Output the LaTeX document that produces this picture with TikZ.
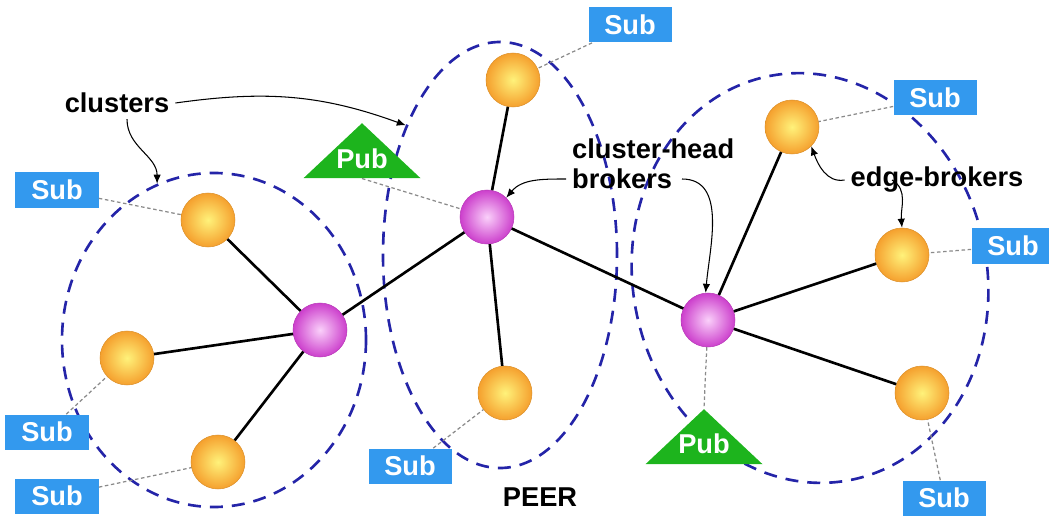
\documentclass[tikz,border=0pt]{standalone}
\usepackage{fontspec}
\setmainfont{Liberation Sans}
\usetikzlibrary{arrows.meta, positioning, shapes.geometric}
\definecolor{subblue}{HTML}{3399EE}
\definecolor{pubgreen}{HTML}{1DB41D}
\definecolor{ringblue}{HTML}{2424A8}
\definecolor{edgein}{HTML}{FFF27A}
\definecolor{edgeout}{HTML}{F5A02E}
\definecolor{headin}{HTML}{FAD0FA}
\definecolor{headout}{HTML}{CC3FCC}
\definecolor{tapgray}{HTML}{8A8A8A}

\begin{document}
\begin{tikzpicture}[x=0.2mm, y=0.2mm,
  every node/.style={font=\fontsize{15.5}{17}\selectfont\bfseries},
  cluster/.style={ellipse, draw=ringblue, line width=1.5pt, dash pattern=on 2.6mm off 1.8mm, inner sep=0pt},
  ebroker/.style={circle, minimum size=10.8mm, inner sep=0pt, shading=radial, inner color=edgein, outer color=edgeout, draw=edgeout!90!black, line width=0.3pt},
  hbroker/.style={circle, minimum size=10.8mm, inner sep=0pt, shading=radial, inner color=headin, outer color=headout, draw=headout!90!black, line width=0.3pt},
  subbox/.style={rectangle, fill=subblue, text=white, minimum width=16.6mm, minimum height=7mm, inner sep=0pt},
  pubtri/.style={isosceles triangle, shape border rotate=90, isosceles triangle stretches, fill=pubgreen, minimum width=23.4mm, minimum height=11mm, inner sep=0pt},
  publabel/.style={text=white, inner sep=0pt},
  link/.style={line width=1.5pt},
  tap/.style={tapgray, dash pattern=on 2pt off 1.5pt, line width=0.7pt},
  pointer/.style={-{Latex[length=1.8mm, width=1.5mm]}, line width=0.6pt},
]
\useasboundingbox (0,0) rectangle (1049,517);

% Clusters
\node[cluster, minimum width=60.8mm, minimum height=66.8mm] (cl1) at (214,177) {};
\node[cluster, minimum width=46.8mm, minimum height=85.2mm] (cl2) at (500,262) {};
\node[cluster, minimum width=70.8mm, minimum height=82.4mm, rotate=12] (cl3) at (810,239) {};

% Cluster-head brokers
\node[hbroker] (h1) at (320,187) {};
\node[hbroker] (h2) at (487,300) {};
\node[hbroker] (h3) at (708,197) {};

% Edge brokers
\node[ebroker] (e1a) at (208,297) {};
\node[ebroker] (e1b) at (127,159) {};
\node[ebroker] (e1c) at (218,55) {};
\node[ebroker] (e2a) at (513,437) {};
\node[ebroker] (e2b) at (505,124) {};
\node[ebroker] (e3a) at (792,390) {};
\node[ebroker] (e3b) at (902,262) {};
\node[ebroker] (e3c) at (922,124) {};

% Subscribers
\node[subbox] (s1) at (57,327) {Sub};
\node[subbox] (s2) at (47,85) {Sub};
\node[subbox] (s3) at (57,21) {Sub};
\node[subbox] (s4) at (410,51) {Sub};
\node[subbox] (s5) at (630,492) {Sub};
\node[subbox] (s6) at (935,419) {Sub};
\node[subbox] (s7) at (1013,271) {Sub};
\node[subbox] (s8) at (944,19) {Sub};

% Publishers
\node[pubtri] (p1) at (362,362) {};
\node[publabel] (p1l) at ([yshift=4mm]p1.lower side) {Pub};
\node[pubtri] (p2) at (704,76) {};
\node[publabel] (p2l) at ([yshift=4.2mm]p2.lower side) {Pub};

% Labels
\node (clus) at (117,414) {clusters};
\node[align=left, anchor=west] (chb) at (566,353) {cluster-head\\brokers};
\node (eb) at (937,337) {edge-brokers};
\node (peer) at (540,20) {PEER};

% Broker links
\draw[link] (h1) -- (e1a);
\draw[link] (h1) -- (e1b);
\draw[link] (h1) -- (e1c);
\draw[link] (h1) -- (h2);
\draw[link] (h2) -- (e2a);
\draw[link] (h2) -- (e2b);
\draw[link] (h2) -- (h3);
\draw[link] (h3) -- (e3a);
\draw[link] (h3) -- (e3b);
\draw[link] (h3) -- (e3c);

% Client taps
\draw[tap] (s1) -- (e1a);
\draw[tap] (s2) -- (e1b);
\draw[tap] (s3) -- (e1c);
\draw[tap] (s4) -- (e2b);
\draw[tap] (s5) -- (e2a);
\draw[tap] (s6) -- (e3a);
\draw[tap] (s7) -- (e3b);
\draw[tap] (s8) -- (e3c);
\draw[tap] (p1.lower side) -- (h2);
\draw[tap] (h3) -- (p2.apex);

% Label pointers
\draw[pointer] (clus.east) to[out=8, in=160] (cl2.126);
\draw[pointer] ([xshift=2mm]clus.south) to[out=-90, in=90] (cl1.110);
\draw[pointer] ([yshift=-3mm]chb.west) to[out=180, in=50] (h2.45);
\draw[pointer] ([xshift=23.2mm, yshift=-3mm]chb.west) to[out=0, in=85] (h3.95);
\draw[pointer] (eb.west) to[out=190, in=-70] (e3a.-45);
\draw[pointer] ([xshift=9.5mm]eb.west) to[out=-30, in=95] (e3b.north);

\end{tikzpicture}
\end{document}
